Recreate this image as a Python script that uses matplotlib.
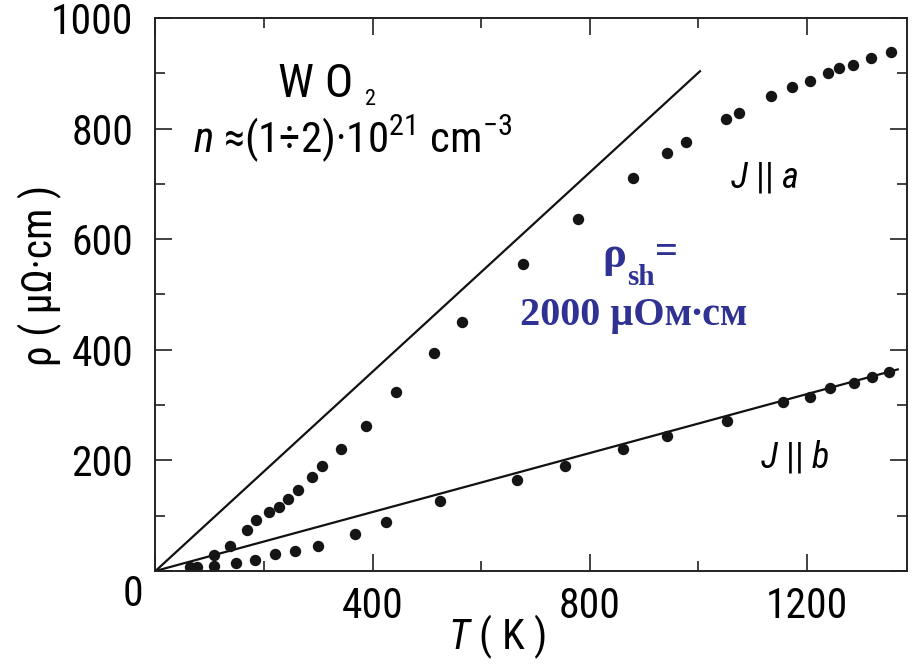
import matplotlib
matplotlib.use("Agg")
import matplotlib.pyplot as plt
from matplotlib import font_manager as fm
from matplotlib.ticker import MultipleLocator, FixedLocator

# --- measured resistivity of WO2 (T in K, rho in micro-ohm cm) ---
T_a = [108, 137, 169, 186, 209, 227, 245, 263, 288, 307, 342, 388, 443, 513,
       565, 678, 779, 880, 943, 977, 1052, 1075, 1134, 1173, 1207, 1240, 1259,
       1286, 1318, 1355]
rho_a = [28, 45, 74, 92, 107, 116, 131, 146, 170, 189, 221, 262, 323, 394,
         450, 555, 636, 711, 755, 775, 817, 829, 858, 875, 886, 900, 909,
         915, 927, 938]

T_b = [63, 76, 108, 149, 184, 220, 258, 299, 368, 424, 524, 666, 755, 862,
       943, 1053, 1157, 1207, 1244, 1288, 1321, 1351]
rho_b = [8, 8, 9, 14, 20, 30, 37, 45, 66, 89, 127, 165, 190, 220,
         244, 272, 305, 315, 330, 340, 351, 360]

# straight reference lines through the origin
line_a_T = [0, 1005]
line_a_rho = [0, 905]
line_b_T = [0, 1370]
line_b_rho = [0, 365]

x_ticks = [0, 400, 800, 1200]
x_tick_labels = ["", "400", "800", "1200"]
y_ticks = [0, 200, 400, 600, 800, 1000]
y_tick_labels = ["", "200", "400", "600", "800", "1000"]


def pick(cands):
    for c in cands:
        try:
            fm.findfont(fm.FontProperties(family=c), fallback_to_default=False)
            return c
        except Exception:
            pass
    return "DejaVu Sans"


SANS = pick(["Liberation Sans Narrow", "Roboto Condensed", "Liberation Sans"])
SERIF = pick(["Liberation Serif", "DejaVu Serif"])

plt.rcParams["font.family"] = [SANS, "DejaVu Sans"]
plt.rcParams["mathtext.fontset"] = "custom"
plt.rcParams["mathtext.rm"] = SANS
plt.rcParams["mathtext.it"] = SANS + ":italic"

fig = plt.figure(figsize=(9.13, 6.65), dpi=100)
ax = fig.add_axes([0.1703, 0.1414, 0.8231, 0.8316])

ax.plot(line_a_T, line_a_rho, color="#111111", lw=1.6, solid_capstyle="butt")
ax.plot(line_b_T, line_b_rho, color="#111111", lw=1.6, solid_capstyle="butt")
ax.plot(T_a, rho_a, "o", color="#151515", ms=8.2, mec="none")
ax.plot(T_b, rho_b, "o", color="#151515", ms=8.2, mec="none")

ax.set_xlim(0, 1385)
ax.set_ylim(0, 1000)

ax.xaxis.set_major_locator(FixedLocator(x_ticks))
ax.set_xticklabels(x_tick_labels)
ax.xaxis.set_minor_locator(MultipleLocator(200))
ax.yaxis.set_major_locator(FixedLocator(y_ticks))
ax.set_yticklabels(y_tick_labels)
ax.yaxis.set_minor_locator(MultipleLocator(100))

ax.tick_params(which="both", direction="in", top=True, right=True,
               color="#333333", width=1.3)
ax.tick_params(which="major", length=12, labelsize=30, pad=11)
ax.tick_params(axis="y", which="major", pad=16)
ax.tick_params(which="minor", length=7)
for s in ax.spines.values():
    s.set_linewidth(1.4)
    s.set_color("#222222")

ax.set_xlabel("$T$ ( K )", fontsize=30)
ax.xaxis.set_label_coords(0.455, -0.074)
ax.set_ylabel("ρ ( μΩ·cm )", fontsize=30)
ax.yaxis.set_label_coords(-0.124, 0.535)

# shared origin label
fig.text(133 / 913, 1 - 595 / 665, "0", fontsize=30, ha="center", va="center")

# annotations
ax.text(296, 857, "W O", fontsize=34, ha="center", va="baseline")
ax.text(386, 843, "2", fontsize=16, ha="left", va="baseline")
ax.text(70, 758, "$n$ ≈(1÷2)·10$^{21}$ cm$^{-3}$", fontsize=31,
        ha="left", va="baseline")
ax.text(1059, 693, "$J$ || $a$", fontsize=26, ha="left", va="baseline")
ax.text(1114, 187, "$J$ || $b$", fontsize=26, ha="left", va="baseline")

blue = "#2f3193"
serif = [SERIF, "DejaVu Serif"]
ax.text(823, 550, "ρ", fontsize=32, fontweight="bold", family=serif,
        color=blue, ha="left", va="baseline")
ax.text(869, 517, "sh", fontsize=21, fontweight="bold", family=serif,
        color=blue, ha="left", va="baseline")
ax.text(921, 557, "=", fontsize=29, fontweight="bold", family=serif,
        color=blue, ha="left", va="baseline")
ax.text(672, 445, "2000 μОм∙см", fontsize=29, fontweight="bold",
        family=serif, color=blue, ha="left", va="baseline")

fig.savefig("out.png", dpi=100)
